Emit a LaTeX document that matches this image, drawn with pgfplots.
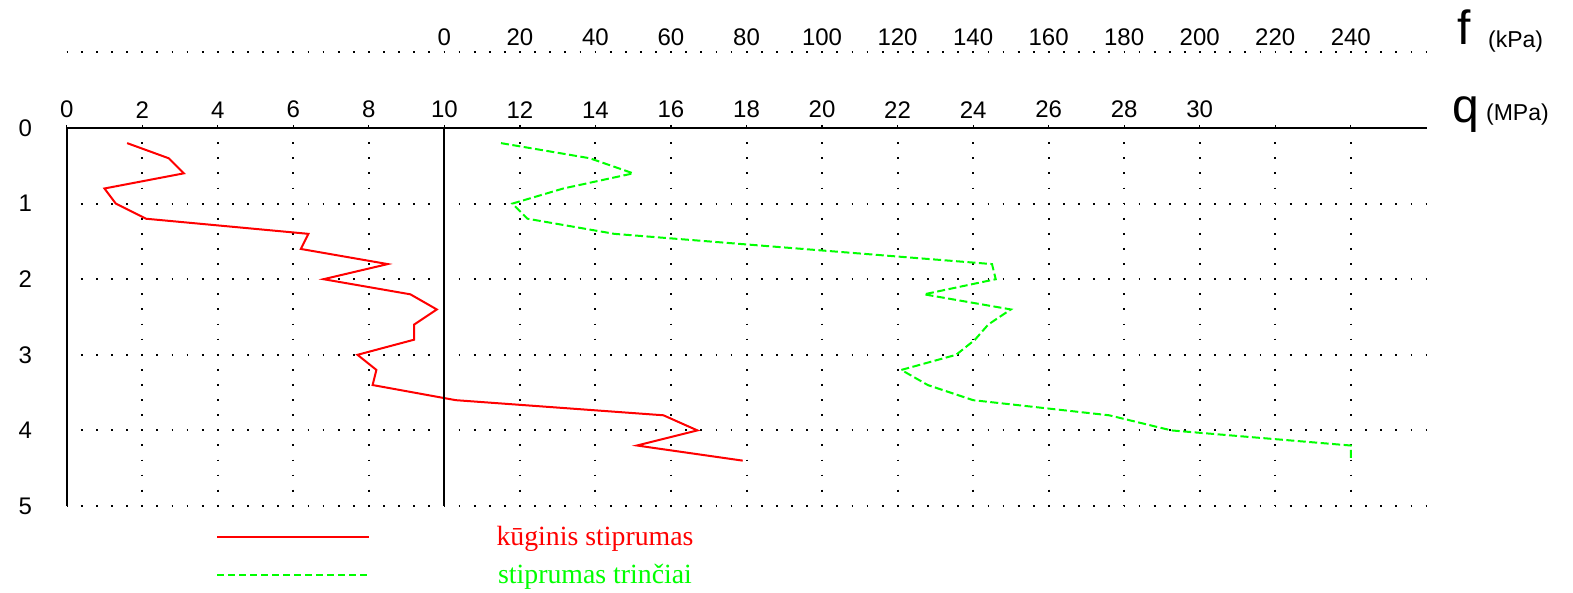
\documentclass[border=0pt]{standalone}
\usepackage{fontspec}
\setmainfont{Liberation Sans}
\newfontfamily\seriffont{Liberation Serif}
\usepackage{pgfplots}
\usepackage{pgfplotstable}
\pgfplotsset{compat=1.18}

\definecolor{qred}{RGB}{255,0,0}
\definecolor{fgreen}{RGB}{0,255,0}

% cone resistance q (MPa) against depth (m)
\pgfplotstableread{
depth q
0.2 1.6
0.4 2.7
0.6 3.1
0.8 1.0
1.0 1.3
1.2 2.1
1.4 6.4
1.6 6.2
1.8 8.5
2.0 6.8
2.2 9.1
2.4 9.8
2.6 9.2
2.8 9.2
3.0 7.7
3.2 8.2
3.4 8.1
3.6 10.3
3.8 15.8
4.0 16.7
4.2 15.1
4.4 17.9
}\conetable

% sleeve friction, drawn on the q scale (f = 10*(q-10) kPa)
\pgfplotstableread{
depth q
0.2 11.5
0.4 13.85
0.6 15.0
0.8 13.15
1.0 11.8
1.2 12.2
1.4 14.5
1.6 19.5
1.8 24.5
2.0 24.6
2.2 22.7
2.4 25.0
2.6 24.4
2.8 24.05
3.0 23.55
3.2 22.1
3.4 22.8
3.6 24.0
3.8 27.6
4.0 29.25
4.2 34.0
4.4 34.0
}\sleevetable

\tikzset{griddots/.style={line width=1pt, dash pattern=on 0.9pt off 6.655pt, dash phase=0.45pt}}

\begin{document}
\begin{tikzpicture}
\path[use as bounding box] (-33.35pt,-43.5pt) rectangle (753.15pt,253pt);

% friction scale f (kPa) on a dotted line above the plot
\begin{axis}[
  scale only axis, width=679.8pt, height=227.15pt,
  at={(0pt,0pt)}, anchor=south west,
  xmin=-100, xmax=260, ymin=0, ymax=1,
  axis x line*=top, axis y line=none,
  x axis line style={griddots, black},
  xtick={0,20,...,240}, major tick length=0pt,
  /pgf/number format/assume math mode=true,
  xticklabel style={font=\fontsize{12}{14}\selectfont, inner sep=0pt, anchor=south, yshift=2.8pt},
]
\end{axis}

% depth against cone resistance q (MPa)
\begin{axis}[
  scale only axis, width=679.8pt, height=189pt,
  at={(0pt,0pt)}, anchor=south west,
  xmin=0, xmax=36, ymin=0, ymax=5, y dir=reverse,
  axis x line*=top, axis y line*=left,
  axis line style={line width=0.9pt, black},
  xtick={0,2,...,34},
  xticklabels={0,2,4,6,8,10,12,14,16,18,20,22,24,26,28,30,{},{}},
  ytick={0,1,2,3,4,5},
  tick align=outside, major tick length=1.6pt,
  xtick style={line width=0.6pt, black},
  ytick style={draw=none},
  grid=major, major grid style={griddots, black},
  clip=false,
  /pgf/number format/assume math mode=true,
  ticklabel style={font=\fontsize{12}{14}\selectfont},
  xticklabel style={inner sep=0pt, anchor=south, yshift=3.1pt},
  yticklabel style={anchor=center, xshift=-19.1pt},
]
\addplot[qred, line width=1pt] table[x=q, y=depth] {\conetable};
\addplot[fgreen, line width=1pt, dash pattern=on 4pt off 1.75pt] table[x=q, y=depth] {\sleevetable};
\draw[line width=0.9pt] (axis cs:10,0) -- (axis cs:10,5);
\end{axis}

% scale names
\node[anchor=base west, inner sep=0pt, font=\fontsize{24}{27}\selectfont] at (692.5pt,191.5pt) {q};
\node[anchor=west, inner sep=0pt, font=\fontsize{11.5}{13}\selectfont] at (709.5pt,195.5pt) {(MPa)};
\node[anchor=base west, inner sep=0pt, font=\fontsize{24}{27}\selectfont] at (695pt,230.5pt) {f};
\node[anchor=west, inner sep=0pt, font=\fontsize{11.5}{13}\selectfont] at (710.5pt,232pt) {(kPa)};

% key
\draw[qred, line width=1pt] (75.15pt,-15.5pt) -- (151.15pt,-15.5pt);
\draw[fgreen, line width=1pt, dash pattern=on 3.5pt off 2pt] (75.15pt,-34.5pt) -- (151.15pt,-34.5pt);
\node[anchor=base, inner sep=0pt, text=qred, font=\seriffont\fontsize{13.9}{16}\selectfont] at (264.15pt,-19.75pt) {kūginis stiprumas};
\node[anchor=base, inner sep=0pt, text=fgreen, font=\seriffont\fontsize{13.9}{16}\selectfont] at (264.15pt,-39pt) {stiprumas trinčiai};
\end{tikzpicture}
\end{document}
